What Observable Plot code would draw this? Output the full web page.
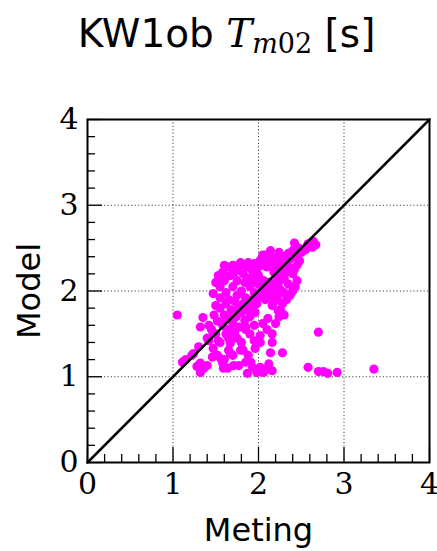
<!DOCTYPE html>
<html>
<head>
<meta charset="utf-8">
<script src="https://cdn.jsdelivr.net/npm/d3@7"></script>
<script src="https://cdn.jsdelivr.net/npm/@observablehq/plot@0.6"></script>
<style>
  html, body { margin: 0; padding: 0; background: #fff; }
  #title { height: 90px; box-sizing: border-box; padding-top: 14px; padding-left: 16px; text-align: center;
           font-family: "DejaVu Sans"; font-size: 39px; line-height: 1; color: #000; white-space: nowrap; }
  .m { font-family: "DejaVu Serif"; font-style: italic; }
  .sub { font-size: 27px; position: relative; top: 6px; }
  .up { font-style: normal; }
</style>
</head>
<body>
<div id="title">KW1ob <span class="m">T<span class="sub">m<span class="up">02</span></span></span> [s]</div>
<div id="chart"></div>
<script>
const titleText = "KW1ob T_m02 [s]";
const xLabel = "Meting";
const yLabel = "Model";
const majorTicks = [0, 1, 2, 3, 4];
const minorTicks = [0.2,0.4,0.6,0.8,1.2,1.4,1.6,1.8,2.2,2.4,2.6,2.8,3.2,3.4,3.6,3.8];
const gridTicks = [1, 2, 3];
const diagonal = [[0, 0], [4, 4]];

// Meting (measured) values
const meting = [
  2.42,2.64,2.67,2.63,2.58,2.55,2.50,2.47,2.44,2.40,2.38,2.35,2.33,2.30,2.28,2.26,2.24,2.22,2.20,2.18,
  2.48,2.45,2.42,2.40,2.36,2.32,2.30,2.27,2.25,2.22,2.20,2.18,2.15,2.14,2.12,2.10,2.08,2.05,2.05,2.02,
  2.45,2.43,2.40,2.37,2.35,2.33,2.30,2.28,2.26,2.25,2.22,2.20,2.18,2.15,2.14,2.12,2.10,2.08,2.06,2.04,
  2.02,2.00,2.24,2.30,
  1.47,1.50,1.53,1.55,1.58,1.60,1.62,1.65,1.67,1.70,1.70,1.72,1.75,1.77,1.79,1.80,1.82,1.84,1.86,1.88,
  1.88,1.90,1.92,1.94,1.95,1.96,1.98,1.99,2.00,1.60,1.55,1.65,1.75,1.85,1.95,
  1.40,1.42,1.45,1.48,1.50,1.52,1.55,1.58,1.60,1.62,1.64,1.66,1.68,1.70,1.72,1.74,1.76,1.78,1.80,1.82,
  1.84,1.86,1.88,1.90,1.92,1.94,1.96,1.98,2.00,1.85,1.65,1.55,
  1.05,1.35,1.32,1.50,1.58,1.47,1.53,1.47,1.65,1.70,1.56,1.24,1.11,1.15,1.32,1.36,1.59,1.71,1.32,1.46,
  1.58,1.64,1.67,1.67,1.79,1.77,1.85,1.91,1.87,2.00,2.06,2.02,2.16,2.14,2.02,2.16,2.23,2.11,2.02,2.16,
  2.16,1.85,1.82,1.96,2.28,2.70,1.93,2.04,2.58,2.70,2.76,2.81,2.92,3.35,1.98,2.10,1.40,1.28,1.75,1.90,
  2.05,1.95,1.72,1.62,1.52,1.42,1.22,1.30,2.20,2.10,1.95,1.80,1.88,1.60,2.12
];
// Model values
const model = [
  2.56,2.58,2.54,2.51,2.55,2.48,2.45,2.50,2.42,2.47,2.38,2.44,2.35,2.40,2.30,2.36,2.45,2.28,2.38,2.32,
  2.35,2.30,2.25,2.20,2.28,2.22,2.15,2.20,2.12,2.18,2.10,2.22,2.40,2.47,2.35,2.28,2.42,2.42,2.30,2.36,
  2.12,2.05,2.00,1.95,2.08,1.90,1.98,1.85,1.77,2.02,1.92,1.98,1.88,2.05,1.95,2.10,2.00,1.90,2.12,2.05,
  1.96,2.08,1.70,1.72,
  1.97,2.10,2.18,2.05,2.22,2.12,1.98,2.28,2.18,2.30,2.05,2.22,2.12,2.28,2.33,2.00,2.20,2.10,2.28,2.33,
  2.15,2.05,2.25,2.18,2.32,2.10,2.22,2.28,2.18,2.30,1.92,1.90,1.95,1.92,1.98,
  1.45,1.60,1.55,1.72,1.50,1.65,1.80,1.60,1.72,1.85,1.55,1.68,1.78,1.62,1.88,1.70,1.80,1.58,1.75,1.85,
  1.66,1.78,1.88,1.70,1.82,1.90,1.75,1.85,1.92,1.55,1.45,1.40,
  1.72,1.69,1.58,1.83,1.62,1.50,1.42,1.33,1.31,1.25,1.21,1.27,1.17,1.20,1.16,1.10,1.10,1.13,1.05,1.23,
  1.16,1.10,1.27,1.39,1.31,1.13,1.17,1.17,1.04,1.07,1.05,1.11,1.07,1.28,1.40,1.83,1.77,1.68,1.48,1.50,
  1.40,1.58,1.31,1.33,1.28,1.52,1.11,1.08,1.11,1.06,1.06,1.04,1.05,1.09,1.05,1.09,1.13,1.12,1.45,1.50,
  1.62,1.60,1.52,1.50,1.25,1.42,1.25,1.35,1.62,1.55,1.42,1.40,1.25,1.20,1.15
];

const points = meting.map((m, i) => ({meting: m, model: model[i]}));
const fmt = d3.format("d");

const plot = Plot.plot({
  width: 437,
  height: 461,
  marginTop: 29,
  marginBottom: 89,
  marginLeft: 87,
  marginRight: 8,
  style: {background: "#fff"},
  x: {domain: [0, 4]},
  y: {domain: [0, 4]},
  marks: [
    Plot.ruleX(gridTicks, {stroke: "#444", strokeDasharray: "1.2,2.2", strokeWidth: 1}),
    Plot.ruleY(gridTicks, {stroke: "#444", strokeDasharray: "1.2,2.2", strokeWidth: 1}),
    Plot.dot(points, {x: "meting", y: "model", r: 4.6, fill: "#ff00ff", stroke: null}),
    Plot.line(diagonal, {x: d => d[0], y: d => d[1], stroke: "#000", strokeWidth: 2.5}),
    Plot.axisX(minorTicks, {tickSize: -8, text: null, label: null, stroke: "#000", strokeWidth: 1.3}),
    Plot.axisY(minorTicks, {tickSize: -8, text: null, label: null, stroke: "#000", strokeWidth: 1.3}),
    Plot.axisX(majorTicks, {tickSize: -15, text: null, label: null, stroke: "#000", strokeWidth: 1.3}),
    Plot.axisY(majorTicks, {tickSize: -15, text: null, label: null, stroke: "#000", strokeWidth: 1.3}),
    Plot.axisX(majorTicks, {tickSize: 0, tickPadding: 10, tickFormat: fmt, label: null, fontSize: 30, fontFamily: "DejaVu Serif", fill: "#000"}),
    Plot.axisY(majorTicks, {tickSize: 0, tickPadding: 9, tickFormat: fmt, label: null, fontSize: 30, fontFamily: "DejaVu Serif", fill: "#000"}),
    Plot.frame({stroke: "#000", strokeWidth: 2}),
    Plot.text([xLabel], {text: d => d, frameAnchor: "bottom", dy: 68, textAnchor: "middle", lineAnchor: "middle", fontSize: 32, fontFamily: "DejaVu Sans", fill: "#000"}),
    Plot.text([yLabel], {text: d => d, frameAnchor: "left", dx: -58, rotate: -90, textAnchor: "middle", lineAnchor: "middle", fontSize: 32, fontFamily: "DejaVu Sans", fill: "#000"})
  ]
});
document.getElementById("chart").appendChild(plot);
</script>
</body>
</html>
